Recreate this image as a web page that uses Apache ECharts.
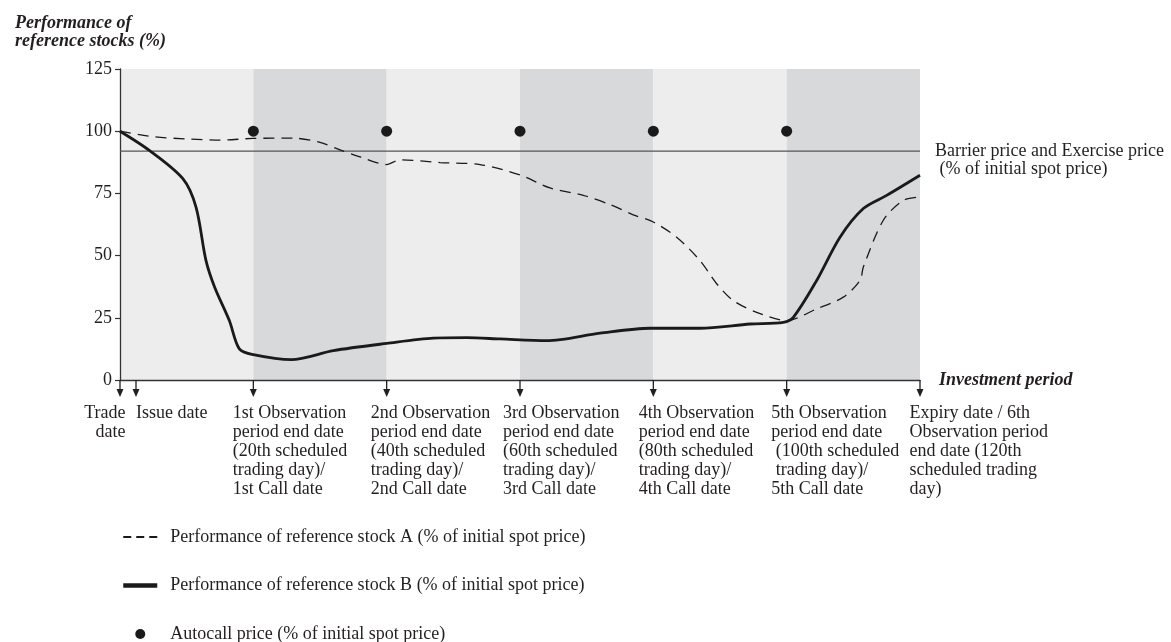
<!DOCTYPE html>
<html>
<head>
<meta charset="utf-8">
<script src="https://cdn.jsdelivr.net/npm/echarts@6/dist/echarts.min.js"></script>
<style>
html,body{margin:0;padding:0;background:#fff;}
#chart{width:1171px;height:642px;}
</style>
</head>
<body>
<div id="chart"></div>
<script>
// ---------- data ----------
const yTicks = [0, 25, 50, 75, 100, 125];
const bandStarts = [0, 20, 40, 60, 80, 100];
const bandEnds = [20, 40, 60, 80, 100, 120];
const bandShade = [0, 1, 0, 1, 0, 1];

const stockADays = [0, 5, 10, 15, 20, 26, 30, 33, 36, 40, 42, 48, 54, 60, 64.5, 69.5, 73.5, 77, 80, 83.5, 87, 89.5, 92, 95.5, 100, 104.5, 108.5, 111, 111.5, 114.5, 117.5, 120];
const stockAValues = [100, 97.8, 96.9, 96.4, 97.1, 97.2, 95.5, 92.5, 89.7, 86.6, 88.5, 87.4, 86.6, 82.4, 77.2, 74.2, 70.5, 66.4, 63.5, 57.4, 48, 38.7, 31.9, 27.2, 23.9, 28.6, 33.3, 40, 45.4, 64.2, 72.2, 73.5];

const stockBDays = [0, 4.4, 9.4, 11.4, 12.9, 14.2, 16.4, 17.9, 20, 25.7, 32, 40, 47, 52, 57, 64, 72, 79.5, 87, 94.5, 99.5, 101, 104.5, 108, 111.5, 115, 120];
const stockBValues = [100, 92.3, 81, 69.5, 48, 37.3, 23.9, 12.5, 10.2, 8.2, 11.8, 14.7, 16.8, 17, 16.5, 15.8, 18.8, 20.8, 20.8, 22.5, 23.2, 25.2, 40, 57.4, 68.9, 74.2, 82.3];

const barrierDays = [0, 120];
const barrierValues = [92, 92];

const autocallDays = [20, 40, 60, 80, 100];
const autocallValues = [100, 100, 100, 100, 100];

const markerDays = [0, 2.4, 20, 40, 60, 80, 100, 120];
const markerLabels = [
  'Trade\ndate',
  'Issue date',
  '1st Observation\nperiod end date\n(20th scheduled\ntrading day)/\n1st Call date',
  '2nd Observation\nperiod end date\n(40th scheduled\ntrading day)/\n2nd Call date',
  '3rd Observation\nperiod end date\n(60th scheduled\ntrading day)/\n3rd Call date',
  '4th Observation\nperiod end date\n(80th scheduled\ntrading day)/\n4th Call date',
  '5th Observation\nperiod end date\n (100th scheduled\n trading day)/\n5th Call date',
  'Expiry date / 6th\nObservation period\nend date (120th\nscheduled trading\nday)'
];

const nameA = 'Performance of reference stock A (% of initial spot price)';
const nameB = 'Performance of reference stock B (% of initial spot price)';
const nameDot = 'Autocall price (% of initial spot price)';
const titleText = 'Performance of\nreference stocks (%)';
const xName = 'Investment period';
const barrierText = 'Barrier price and Exercise price\n (% of initial spot price)';

// ---------- styles ----------
const FONT = '"Liberation Serif", "Times New Roman", serif';
const INK = '#231f20';
const LINE = '#1a1a1a';
const LIGHT = '#ededed';
const DARK = '#d8d9db';
const LABEL_DX = [5.5, 0, -20.5, -16, -17, -14.5, -15.5, -10.5];
const LABEL_ALIGN = ['right', 'left', 'left', 'left', 'left', 'left', 'left', 'left'];

const zip = (xs, ys) => xs.map((x, i) => [x, ys[i]]);

const chart = echarts.init(document.getElementById('chart'), null, {renderer: 'canvas'});

const option = {
  animation: false,
  backgroundColor: '#ffffff',
  textStyle: {fontFamily: FONT, color: INK},
  title: {
    text: titleText,
    left: 10,
    top: 9,
    textStyle: {fontFamily: FONT, fontSize: 18, fontWeight: 'bold', fontStyle: 'italic', color: INK, lineHeight: 18}
  },
  grid: {left: 120, right: 251, top: 69, bottom: 262, containLabel: false},
  xAxis: {
    type: 'value',
    min: 0, max: 120,
    name: xName,
    nameLocation: 'end',
    nameGap: 19,
    nameTextStyle: {fontFamily: FONT, fontSize: 18, fontWeight: 'bold', fontStyle: 'italic', color: INK, verticalAlign: 'middle', padding: [0, 0, 3, 0]},
    axisLine: {show: true, lineStyle: {color: '#333', width: 1.3}},
    axisTick: {show: false},
    axisLabel: {show: false},
    splitLine: {show: false}
  },
  yAxis: {
    type: 'value',
    min: 0, max: 125, interval: 25,
    axisLine: {show: true, lineStyle: {color: '#333', width: 1.3}},
    axisTick: {show: true, length: 5, lineStyle: {color: '#333', width: 1.2}},
    axisLabel: {show: true, fontSize: 18, color: INK, fontFamily: FONT, margin: 8,
      formatter: v => yTicks.indexOf(v) >= 0 ? String(v) : ''},
    splitLine: {show: false}
  },
  legend: {
    orient: 'vertical',
    left: 116,
    top: 522,
    height: 130,
    itemWidth: 34,
    itemHeight: 10,
    itemGap: 28.5,
    textStyle: {fontFamily: FONT, fontSize: 18, color: INK, lineHeight: 20, padding: [0, 0, 0, 8]},
    data: [
      {name: nameA, lineStyle: {type: [8, 5], width: 2}, itemStyle: {opacity: 0}},
      {name: nameB, lineStyle: {width: 4.5}, itemStyle: {opacity: 0}},
      {name: nameDot, icon: 'circle', itemStyle: {color: LINE, opacity: 1}}
    ]
  },
  series: [
    {
      name: 'bands',
      type: 'custom',
      z: -1,
      silent: true,
      data: bandStarts.map((s, i) => [s, bandEnds[i], bandShade[i]]),
      encode: {x: [0, 1]},
      renderItem: function (params, api) {
        const a = api.coord([api.value(0), 125]);
        const b = api.coord([api.value(1), 0]);
        return {
          type: 'rect',
          shape: {x: a[0], y: a[1], width: b[0] - a[0], height: b[1] - a[1]},
          style: {fill: api.value(2) ? DARK : LIGHT}
        };
      }
    },
    {
      name: 'barrier',
      type: 'line',
      z: 3,
      symbol: 'none',
      data: zip(barrierDays, barrierValues),
      lineStyle: {color: '#555', width: 1.2},
      endLabel: {
        show: true,
        formatter: () => barrierText,
        fontFamily: FONT, fontSize: 18, color: INK, lineHeight: 18,
        offset: [7, 9], align: 'left'
      }
    },
    {
      name: nameA,
      type: 'line',
      z: 4,
      symbol: 'none',
      showSymbol: false,
      smooth: 0.3,
      data: zip(stockADays, stockAValues),
      lineStyle: {color: LINE, width: 1.3, type: [11, 7]},
      itemStyle: {color: LINE}
    },
    {
      name: nameB,
      type: 'line',
      z: 5,
      symbol: 'none',
      showSymbol: false,
      smooth: 0.3,
      data: zip(stockBDays, stockBValues),
      lineStyle: {color: LINE, width: 2.8},
      itemStyle: {color: LINE}
    },
    {
      name: nameDot,
      type: 'scatter',
      z: 6,
      symbol: 'circle',
      symbolSize: 11,
      data: zip(autocallDays, autocallValues),
      itemStyle: {color: LINE, opacity: 1}
    },
    {
      name: 'markers',
      type: 'custom',
      z: 7,
      silent: true,
      clip: false,
      data: markerDays.map((d, i) => [d, i]),
      encode: {x: 0},
      renderItem: function (params, api) {
        const p = api.coord([api.value(0), 0]);
        const i = api.value(1);
        const x = p[0], y = p[1];
        return {
          type: 'group',
          children: [
            {type: 'line', shape: {x1: x, y1: y, x2: x, y2: y + 11}, style: {stroke: INK, lineWidth: 1.3}},
            {type: 'polygon', shape: {points: [[x - 3.5, y + 9], [x + 3.5, y + 9], [x, y + 17]]}, style: {fill: INK}},
            {type: 'text', x: x + LABEL_DX[i], y: y + 23.5,
              style: {text: markerLabels[i], fill: INK, font: '18px ' + FONT, lineHeight: 19,
                align: LABEL_ALIGN[i], verticalAlign: 'top'}}
          ]
        };
      }
    }
  ]
};
chart.setOption(option);
</script>
</body>
</html>
